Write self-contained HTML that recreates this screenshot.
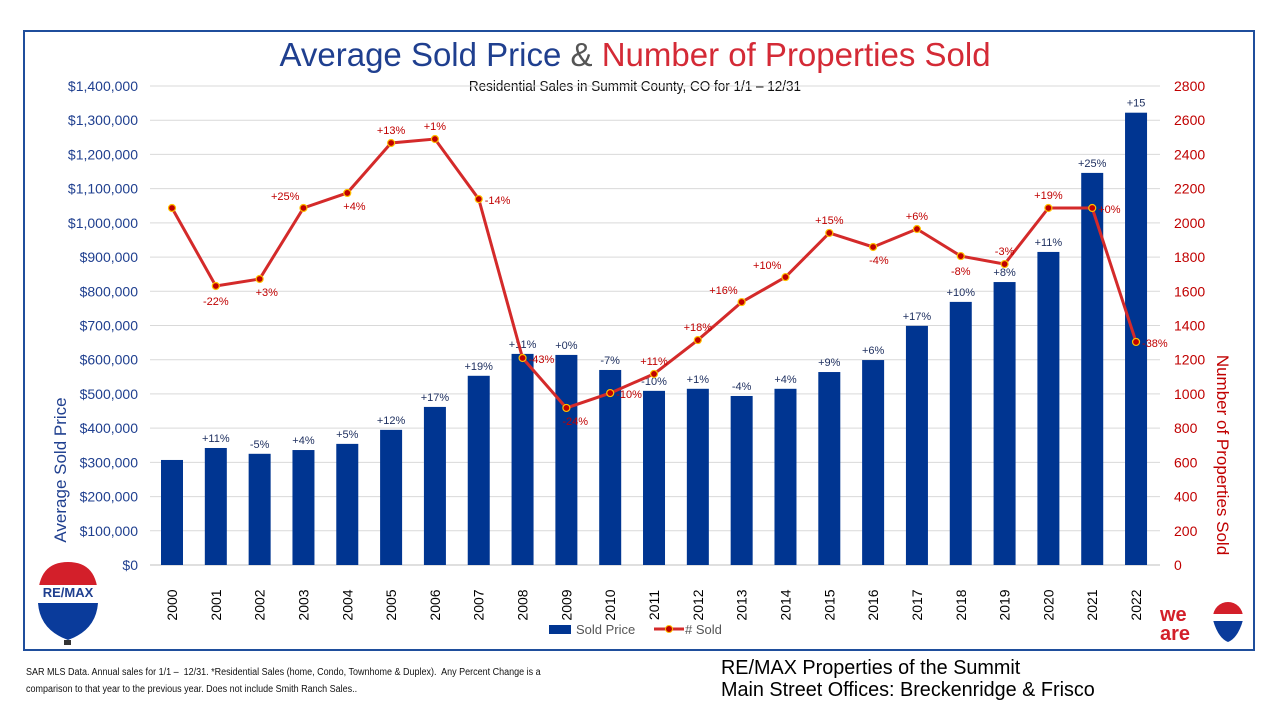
<!DOCTYPE html>
<html><head><meta charset="utf-8"><style>
body{margin:0;background:#fff;width:1280px;height:720px;overflow:hidden;font-family:"Liberation Sans",sans-serif}
#frame{position:absolute;left:23px;top:30px;width:1232px;height:621px;border:2px solid #1f4e9c;box-sizing:border-box}
.t{position:absolute;white-space:nowrap}
</style></head><body>
<div id="frame"></div>
<div class="t" style="left:0;width:1270px;text-align:center;top:36px;font-size:33px;color:#d42a36"><span style="color:#1f3f8f">Average Sold Price</span> <span style="color:#555">&amp;</span> Number of Properties Sold</div>
<div class="t" style="left:0;width:1270px;text-align:center;top:78px;font-size:15px;color:#111;transform:scaleX(0.9)">Residential Sales in Summit County, CO for 1/1 – 12/31</div>
<svg id="c" width="1280" height="720" style="position:absolute;left:0;top:0"></svg>
<div class="t" style="left:26px;top:664px;font-size:10px;color:#111;line-height:17px;transform:scaleX(0.9);transform-origin:left">SAR MLS Data. Annual sales for 1/1 –&nbsp; 12/31. *Residential Sales (home, Condo, Townhome &amp; Duplex).&nbsp; Any Percent Change is a<br>comparison to that year to the previous year. Does not include Smith Ranch Sales..</div>
<div class="t" style="left:721px;top:657px;font-size:20px;color:#000;line-height:22px;transform:scaleX(0.99);transform-origin:left">RE/MAX Properties of the Summit<br>Main Street Offices: Breckenridge &amp; Frisco</div>
<script>
const years=["2000","2001","2002","2003","2004","2005","2006","2007","2008","2009","2010","2011","2012","2013","2014","2015","2016","2017","2018","2019","2020","2021","2022"];
const prices=[307000,342000,325000,336000,354000,395000,462000,553000,617000,614000,570000,509000,515000,494000,515000,564000,599000,699000,769000,827000,915000,1146000,1322000];
const sold=[2087,1631,1672,2087,2175,2467,2490,2139,1210,918,1005,1117,1315,1537,1683,1941,1859,1964,1806,1759,2087,2087,1304];
const priceLbl=["","+11%","-5%","+4%","+5%","+12%","+17%","+19%","+11%","+0%","-7%","-10%","+1%","-4%","+4%","+9%","+6%","+17%","+10%","+8%","+11%","+25%","+15"];
const soldLbl=["","-22%","+3%","+25%","+4%","+13%","+1%","-14%","-43%","-24%","-10%","+11%","+18%","+16%","+10%","+15%","-4%","+6%","-8%","-3%","+19%","+0%","-38%"];
const soldLblSide=["a","b","br","al","br","a","a","r","r","br","r","a","a","al","al","a","br","a","b","a","a","r","r"];
const leftTicks=[0,100000,200000,300000,400000,500000,600000,700000,800000,900000,1000000,1100000,1200000,1300000,1400000];
const rightTicks=[0,200,400,600,800,1000,1200,1400,1600,1800,2000,2200,2400,2600,2800];
const NS="http://www.w3.org/2000/svg",svg=document.getElementById('c');
const y0=565,y1=86,x0=150,xs=43.82,xL=172;
const yP=v=>y0-(v/1400000)*(y0-y1), yS=v=>y0-(v/2800)*(y0-y1), xB=i=>xL+i*xs;
function el(t,a,p){const e=document.createElementNS(NS,t);for(const k in a)e.setAttribute(k,a[k]);(p||svg).appendChild(e);return e}
leftTicks.forEach((v,i)=>{
 const g=el('line',{x1:x0,x2:1160,y1:yP(v),y2:yP(v),stroke:i?'#d9d9d9':'#bfbfbf','stroke-width':1});
 
 const t=el('text',{x:138,y:yP(v)+5,'text-anchor':'end','font-size':14,fill:'#1f3f8f'});
 t.textContent='$'+v.toLocaleString('en-US');
 
});
rightTicks.forEach(v=>{
 const t=el('text',{x:1174,y:yS(v)+5,'font-size':14,fill:'#c00000'});t.textContent=v;
 
});
years.forEach((yr,i)=>{
 const x=xB(i);
 const b=el('rect',{x:x-11,y:yP(prices[i]),width:22,height:y0-yP(prices[i]),fill:'#003591'});
 
 const t=el('text',{x:x+5,y:605,'font-size':14,fill:'#000','text-anchor':'middle',transform:`rotate(-90 ${x+5} 605)`});t.textContent=yr;
 
 if(priceLbl[i]){const l=el('text',{x:x,y:yP(prices[i])-6,'font-size':11,fill:'#1f3060','text-anchor':'middle'});l.textContent=priceLbl[i];
 }
});
const pts=sold.map((v,i)=>xB(i)+','+yS(v)).join(' ');
const pl=el('polyline',{points:pts,fill:'none',stroke:'#d42a2a','stroke-width':3});

sold.forEach((v,i)=>{
 const x=xB(i),y=yS(v);
 const c=el('circle',{cx:x,cy:y,r:3.5,fill:'#c00000',stroke:'#ffc000','stroke-width':1.2});
 
 if(!soldLbl[i])return;
 const s=soldLblSide[i];let lx=x,ly=y,a='middle';
 if(s=='a'){ly=y-9}else if(s=='b'){ly=y+19}else if(s=='r'){lx=x+6;ly=y+5;a='start'}else if(s=='br'){lx=x-4;ly=y+17;a='start'}else if(s=='al'){lx=x-4;ly=y-8;a='end'}
 const l=el('text',{x:lx,y:ly,'font-size':11,fill:'#c00000','text-anchor':a});l.textContent=soldLbl[i];
 
});
let t=el('text',{x:66,y:470,'font-size':17,fill:'#1f3f8f','text-anchor':'middle',transform:'rotate(-90 66 470)'});t.textContent='Average Sold Price';

t=el('text',{x:1217,y:455,'font-size':17,fill:'#c00000','text-anchor':'middle',transform:'rotate(90 1217 455)'});t.textContent='Number of Properties Sold';

let r=el('rect',{x:549,y:625,width:22,height:9,fill:'#003591'});
t=el('text',{x:576,y:634,'font-size':13,fill:'#555'});t.textContent='Sold Price';
r=el('line',{x1:654,x2:684,y1:629,y2:629,stroke:'#d42a2a','stroke-width':3});
r=el('circle',{cx:669,cy:629,r:3.5,fill:'#c00000',stroke:'#ffc000'});
t=el('text',{x:685,y:634,'font-size':13,fill:'#555'});t.textContent='# Sold';
const g=el('g',{});
el('path',{d:'M38,598 Q38,562 68,562 Q98,562 98,598 Z',fill:'#d31f2a'},g);
el('rect',{x:38,y:585,width:60,height:20,fill:'#fff'},g);
el('path',{d:'M38,603 L98,603 Q96,630 68,640 Q40,630 38,603 Z',fill:'#0a3b9b'},g);
t=el('text',{x:68,y:597,'font-size':13,'font-weight':'bold',fill:'#1f3f8f','text-anchor':'middle'},g);t.textContent='RE/MAX';

el('rect',{x:64,y:640,width:7,height:5,fill:'#333'},g);
const w=el('g',{});
t=el('text',{x:1160,y:621,'font-size':20,'font-weight':'bold',fill:'#d31f2a'},w);t.textContent='we';
t=el('text',{x:1160,y:640,'font-size':20,'font-weight':'bold',fill:'#d31f2a'},w);t.textContent='are';
el('circle',{cx:1228,cy:617,r:15,fill:'#d31f2a'},w);
el('path',{d:'M1213,620 L1243,620 Q1238,638 1228,642 Q1218,638 1213,620Z',fill:'#0a3b9b'},w);
el('rect',{x:1213,y:614,width:30,height:7,fill:'#fff'},w);
</script>
</body></html>
